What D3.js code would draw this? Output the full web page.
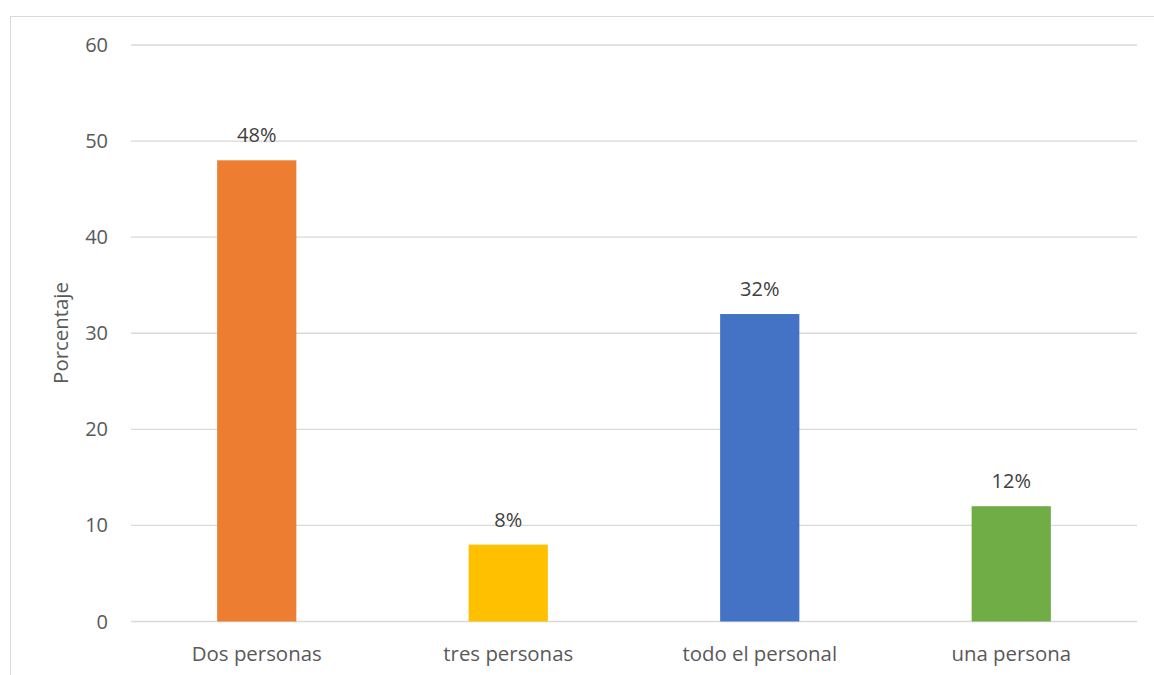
<!DOCTYPE html>
<html><head><meta charset="utf-8">
<script src="https://cdn.jsdelivr.net/npm/d3@7"></script>
<style>body{margin:0;background:#fff}text{font-family:"Open Sans","Noto Sans",sans-serif}</style>
</head><body><svg id="c" width="1154" height="675"></svg>
<script>
const categories = ["Dos personas","tres personas","todo el personal","una persona"];
const values = [48, 8, 32, 12];
const labels = ["48%","8%","32%","12%"];
const colors = ["#ED7D31","#FFC000","#4472C4","#70AD47"];
const yTicks = [0,10,20,30,40,50,60];

const svg = d3.select("#c");
svg.append("rect").attr("x",10.5).attr("y",16.5).attr("width",1200).attr("height",700)
  .attr("fill","none").attr("stroke","#d9d9d9").attr("stroke-width",1);

const x = d3.scaleBand().domain(categories).range([131,1137]).paddingInner(0.685).paddingOuter(0.3425);
const y = d3.scaleLinear().domain([0,60]).range([621.5,45]);

const g = svg.append("g");
g.selectAll("line.grid").data(yTicks).join("line")
  .attr("x1",131).attr("x2",1137).attr("y1",d=>y(d)).attr("y2",d=>y(d))
  .attr("stroke","#d9d9d9").attr("stroke-width",1.3);

g.selectAll("text.yt").data(yTicks).join("text")
  .attr("x",108).attr("y",d=>y(d)).attr("dy","0.35em").attr("text-anchor","end")
  .attr("fill","#595959").attr("font-size",20).text(d=>d);

g.selectAll("rect.bar").data(values).join("rect")
  .attr("x",(d,i)=>x(categories[i])).attr("width",x.bandwidth())
  .attr("y",d=>y(d)).attr("height",d=>y(0)-y(d)).attr("fill",(d,i)=>colors[i]);

g.selectAll("text.lab").data(values).join("text")
  .attr("x",(d,i)=>x(categories[i])+x.bandwidth()/2).attr("y",d=>y(d)-18)
  .attr("text-anchor","middle").attr("fill","#404040").attr("font-size",20).text((d,i)=>labels[i]);

g.selectAll("text.xt").data(categories).join("text")
  .attr("x",d=>x(d)+x.bandwidth()/2).attr("y",661)
  .attr("text-anchor","middle").attr("fill","#595959").attr("font-size",20.4).text(d=>d);

svg.append("text").attr("transform","translate(68,333) rotate(-90)")
  .attr("text-anchor","middle").attr("fill","#595959").attr("font-size",20.4).text("Porcentaje");
</script></body></html>
